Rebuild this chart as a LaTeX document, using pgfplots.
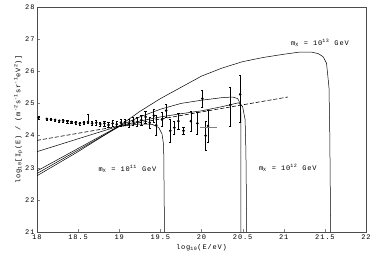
\documentclass[border=0pt]{standalone}
\usepackage{fontspec}
\setmainfont{Liberation Mono}[LetterSpace=12]
\usepackage{pgfplots}
\pgfplotsset{compat=1.18}
\pgfplotstableread{
x y ep em
18.02 24.56 0.04 0.04
18.12 24.52 0.03 0.03
18.17 24.50 0.03 0.03
18.22 24.49 0.03 0.03
18.27 24.46 0.03 0.03
18.32 24.46 0.04 0.04
18.37 24.44 0.04 0.04
18.42 24.42 0.04 0.04
18.47 24.40 0.04 0.04
18.52 24.38 0.05 0.05
18.57 24.40 0.05 0.05
18.62 24.42 0.25 0.05
18.67 24.38 0.06 0.06
18.72 24.40 0.08 0.08
18.77 24.36 0.07 0.07
18.82 24.38 0.08 0.08
18.87 24.33 0.08 0.08
18.92 24.38 0.09 0.09
18.97 24.35 0.09 0.09
19.02 24.40 0.10 0.10
19.07 24.42 0.10 0.10
19.12 24.38 0.12 0.12
19.17 24.45 0.12 0.12
19.22 24.42 0.14 0.14
19.27 24.48 0.15 0.15
19.32 24.58 0.18 0.18
19.37 24.40 0.18 0.18
19.42 24.62 0.20 0.20
19.45 24.32 0.32 0.32
19.52 24.50 0.22 0.22
19.57 24.78 0.20 0.20
19.62 24.15 0.35 0.35
19.67 24.25 0.20 0.20
19.72 24.45 0.25 0.25
19.78 24.15 0.12 0.12
19.87 24.45 0.30 0.30
19.95 24.38 0.35 0.35
20.01 25.15 0.27 0.27
20.05 24.00 0.45 0.45
20.08 24.30 0.50 0.50
20.35 24.95 0.55 0.65
20.47 25.28 0.60 0.85
}\datatable
\begin{document}
\fontsize{7}{8}\selectfont
\begin{tikzpicture}
\path[use as bounding box] (-37pt,-34pt) rectangle (345pt,232pt);
\begin{axis}[
 at={(0,0)}, anchor=south west,
 scale only axis, width=329pt, height=225pt,
 xmin=18, xmax=22, ymin=21, ymax=28,
 xtick={18,18.5,19,19.5,20,20.5,21,21.5,22},
 xticklabels={18,18.5,19,19.5,20,20.5,21,21.5,22},
 ytick={21,22,23,24,25,26,27,28},
 yticklabels={21,22,23,24,25,26,27,28},
 tick pos=left, tick align=inside, major tick length=3pt,
 axis line style={black!70},
 tick label style={font=\fontsize{7}{8}\selectfont},
 label style={font=\fontsize{7}{8}\selectfont},
 xlabel={log\textsubscript{10}(E/eV)},
 ylabel={log\textsubscript{10}[I\textsubscript{p}(E) / (m\textsuperscript{-2}s\textsuperscript{-1}sr\textsuperscript{-1}eV\textsuperscript{2})]},
 ylabel style={yshift=-2pt},
 clip=true,
]
% m_X = 10^13
\addplot[black, line width=0.5pt] coordinates {
(18,22.75) (18.5,23.5) (19,24.3) (19.25,24.75) (19.5,25.15) (19.75,25.5) (20,25.85)
(20.25,26.1) (20.5,26.3) (20.75,26.43) (21,26.53) (21.2,26.6) (21.33,26.6) (21.42,26.55)
(21.48,26.45) (21.52,26.25) (21.55,25.5) (21.56,24) (21.57,21)};
% m_X = 10^12 (a)
\addplot[black, line width=0.5pt] coordinates {
(18,22.9) (18.5,23.6) (19,24.3) (19.25,24.58) (19.5,24.82) (19.75,25.0) (20,25.1)
(20.25,25.18) (20.38,25.2) (20.44,25.15) (20.47,25.0) (20.48,24.6) (20.48,21)};
% m_X = 10^12 (b)
\addplot[black, line width=0.5pt] coordinates {
(18,23.5) (18.5,23.9) (19,24.3) (19.25,24.45) (19.5,24.58) (19.75,24.68) (20,24.77)
(20.25,24.9) (20.45,25.02) (20.5,24.9) (20.53,24.5) (20.54,23.5) (20.55,21)};
% m_X = 10^11
\addplot[black, line width=0.5pt] coordinates {
(18,22.82) (18.5,23.55) (19,24.28) (19.25,24.36) (19.4,24.35) (19.48,24.25) (19.52,24.05)
(19.54,23.7) (19.55,21)};
% dashed fit
\addplot[black, line width=0.6pt, dash pattern=on 4pt off 2pt] coordinates {(18,23.85) (21.05,25.2)};
% data
\addplot[only marks, mark=*, mark size=1.1pt, black,
 error bars/.cd, y dir=both, y explicit, error bar style={line width=0.6pt}]
 table[x=x, y=y, y error plus=ep, y error minus=em] {\datatable};
\addplot[gray, line width=0.6pt] coordinates {(19.98,24.25) (20.19,24.25)};
\node[font=\fontsize{7}{8}\selectfont] at (axis cs:21.44,26.9) {m\textsubscript{X} = 10\textsuperscript{13} GeV};
\node[font=\fontsize{7}{8}\selectfont] at (axis cs:21.05,23.0) {m\textsubscript{X} = 10\textsuperscript{12} GeV};
\node[font=\fontsize{7}{8}\selectfont] at (axis cs:19.1,22.95) {m\textsubscript{X} = 10\textsuperscript{11} GeV};
\end{axis}
\end{tikzpicture}
\end{document}
